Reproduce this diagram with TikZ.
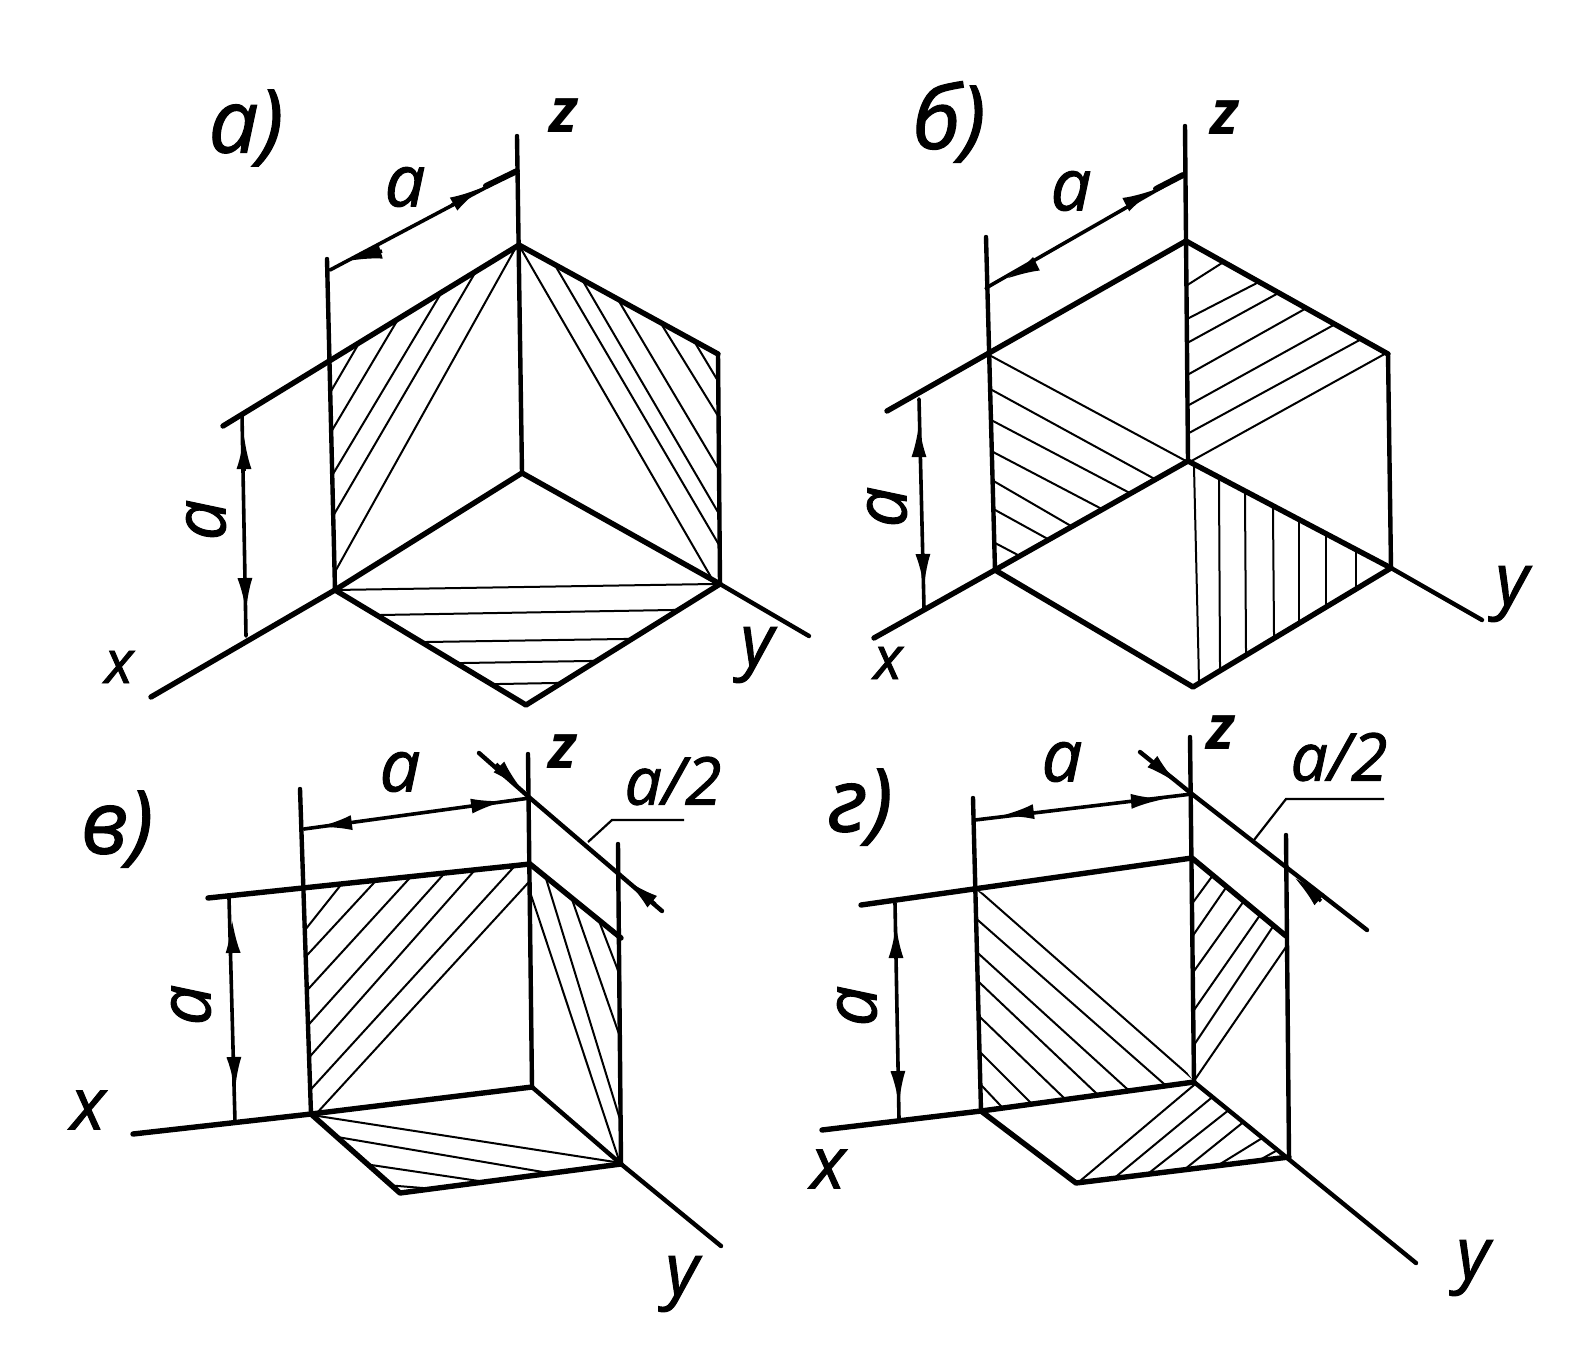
\documentclass[tikz,border=0pt]{standalone}
\usepackage{fontspec}
\setmainfont{Open Sans}[ItalicFeatures={FakeBold=1.4}]
\usetikzlibrary{arrows.meta,calc}
\tikzset{
  edge/.style={line width=5.4pt,line cap=round,line join=round,black},
  axis/.style={line width=4.4pt,line cap=round,line join=round,black},
  dimline/.style={line width=3.6pt,line cap=round,black},
  thinline/.style={line width=2.2pt,black},
  hatchline/.style={line width=2pt,black},
  headR/.style={line width=3.6pt,-{Latex[length=34pt,width=15pt]}},
  lblbig/.style={inner sep=0pt,font=\itshape\fontsize{88}{88}\selectfont},
  lbl/.style={inner sep=0pt,font=\itshape\fontsize{72}{72}\selectfont},
  lblax/.style={inner sep=0pt,font=\itshape\bfseries\fontsize{62}{62}\selectfont},
  lblx/.style={inner sep=0pt,font=\itshape\fontsize{60}{60}\selectfont},
  lblsm/.style={inner sep=0pt,font=\itshape\fontsize{66}{66}\selectfont},
}
% hatch lines, each lengthened a little and clipped by its face
\newcommand{\facehatch}[2]{%
  \begin{scope}
    \clip #1;
    \foreach \p/\q/\r/\s in {#2}
      \draw[hatchline] ($(\p,\q)!-14pt!(\r,\s)$) -- ($(\r,\s)!-14pt!(\p,\q)$);
  \end{scope}}
\begin{document}
\begin{tikzpicture}[x=1pt,y=-1pt]
\useasboundingbox[fill=white] (0,0) rectangle (1576,1352);

% ---------- panel a
\coordinate (aZt) at (517,136); \coordinate (aA) at (519,245); \coordinate (aC) at (522,473);
\coordinate (aLt) at (327,259); \coordinate (aLb) at (335,590); \coordinate (aEx) at (223,426);
\coordinate (aJ) at (329,362);
\coordinate (aX) at (151,697); \coordinate (aR) at (718,354); \coordinate (aYp) at (720,584);
\coordinate (aY) at (809,636); \coordinate (aB) at (526,705);
\coordinate (aD1) at (330,270); \coordinate (aD2) at (517,171);
\coordinate (aV1) at (242,415); \coordinate (aV2) at (246,636);
\facehatch{(aJ) -- (aA) -- (aC) -- (aLb) -- cycle}{334/386/355/350,334/427/394/326,336/469/437/300,336/511/472/278,336/570/515/249}
\facehatch{(aA) -- (aR) -- (aYp) -- (aC) -- cycle}{697/346/715/376,665/330/715/411,623/308/715/463,587/288/715/507,559/272/715/538,520/247/715/584}
\facehatch{(aLb) -- (aC) -- (aYp) -- (aB) -- cycle}{334/590/713/584,380/615/672/610,426/642/623/639,463/663/589/661,499/684/555/683}
\draw[axis] (aZt) -- (aC);
\draw[axis] (aLt) -- (aLb);
\draw[edge] (aEx) -- (aA) -- (aR);
\draw[axis] (aR) -- (aYp);
\draw[edge] (aX) -- (aLb) -- (aC) -- (aYp);
\draw[axis] (aYp) -- (aY);
\draw[edge] (aLb) -- (aB) -- (aYp);
\draw[dimline] (aD1) -- (aD2);
\draw[line width=6pt,line cap=round] (486,186) -- (aD2);
\draw[dimline] (aV1) -- (aV2);
\draw[headR] (382,251) -- (348,261);
\draw[headR] (452,205) -- (483,187);
\draw[headR] (244,471) -- (244,435);
\draw[headR] (245,580) -- (246,612);
\node[lblbig] (aTitle) at (246,128) {а)};
\node[lblax] (aZ) at (564,116) {z};
\node[lbl] (aDa) at (405,187) {a};
\node[lbl,rotate=90] (aVa) at (206,520) {a};
\node[lblx] (aXl) at (119,667) {x};
\node[lbl] (aYl) at (757,655) {y};

% ---------- panel b
\coordinate (bZt) at (1185,126); \coordinate (bA) at (1186,241); \coordinate (bC) at (1188,461);
\coordinate (bLt) at (986,237); \coordinate (bLb) at (995,570); \coordinate (bEx) at (887,411);
\coordinate (bJ) at (988,354);
\coordinate (bX) at (874,638); \coordinate (bR) at (1388,354); \coordinate (bYp) at (1391,568);
\coordinate (bY) at (1482,620); \coordinate (bB) at (1193,687);
\coordinate (bD1) at (986,288); \coordinate (bD2) at (1183,175);
\coordinate (bV1) at (919,399); \coordinate (bV2) at (924,608);
\facehatch{(bA) -- (bR) -- (bYp) -- (bC) -- cycle}{1189/284/1222/263,1189/318/1255/284,1189/342/1273/296,1189/374/1303/310,1189/405/1330/327,1189/433/1356/342,1195/459/1381/356}
\facehatch{(bJ) -- (1100,380) -- (bC) -- (bLb) -- cycle}{991/356/1186/461,992/390/1151/477,993/421/1126/491,995/453/1098/507,997/483/1071/526,997/511/1046/538,997/544/1016/554}
\facehatch{(bC) -- (bYp) -- (bB) -- (bLb) -- cycle}{1194/467/1199/681,1219/483/1220/665,1245/495/1246/651,1273/511/1274/634,1299/526/1299/618,1326/540/1326/602,1356/556/1356/584}
\draw[axis] (bZt) -- (bC);
\draw[axis] (bLt) -- (bLb);
\draw[edge] (bEx) -- (bA) -- (bR);
\draw[axis] (bR) -- (bYp);
\draw[edge] (bX) -- (bLb) -- (bC) -- (bYp);
\draw[axis] (bYp) -- (bY);
\draw[edge] (bLb) -- (bB) -- (bYp);
\draw[dimline] (bD1) -- (bD2);
\draw[line width=6pt,line cap=round] (1156,189) -- (bD2);
\draw[dimline] (bV1) -- (bV2);
\draw[headR] (1034,265) -- (1006,279);
\draw[headR] (1127,204) -- (1156,189);
\draw[headR] (919,455) -- (919,423);
\draw[headR] (923,556) -- (924,588);
\node[lblbig] (bTitle) at (949,122) {б)};
\node[lblax] (bZ) at (1225,118) {z};
\node[lbl] (bDa) at (1071,191) {a};
\node[lbl,rotate=90] (bVa) at (887,507) {a};
\node[lblx] (bXl) at (888,663) {x};
\node[lbl] (bYl) at (1512,594) {y};

% ---------- panel c
\coordinate (cZt) at (528,754); \coordinate (cM) at (530,798); \coordinate (cA) at (530,864); \coordinate (cC) at (532,1087);
\coordinate (cLt) at (300,789); \coordinate (cLb) at (311,1114); \coordinate (cEx) at (208,898);
\coordinate (cJ) at (302,888);
\coordinate (cX) at (133,1134); \coordinate (cRt) at (618,844); \coordinate (cYp) at (621,1164);
\coordinate (cY) at (721,1246); \coordinate (cB) at (400,1193);
\coordinate (cS) at (479,753); \coordinate (cE) at (662,911); \coordinate (cF) at (621,938);
\coordinate (cD1) at (304,829); \coordinate (cV1) at (229,898); \coordinate (cV2) at (235,1122);
\coordinate (cLe1) at (588,842); \coordinate (cLe2) at (612,820); \coordinate (cLe3) at (684,820);
\facehatch{(cJ) -- (cA) -- (cC) -- (cLb) -- cycle}{309/925/340/886,310/952/371/886,311/986/407/881,311/1022/443/875,313/1053/474/871,313/1087/512/869,316/1114/528/883}
\facehatch{(cA) -- (cF) -- (cYp) -- (cC) -- cycle}{604/934/619/973,575/908/619/1034,548/885/619/1116,532/898/619/1160}
\facehatch{(cLb) -- (cC) -- (cYp) -- (cB) -- cycle}{318/1116/615/1162,349/1139/543/1172,378/1166/479/1181,398/1186/423/1188}
\draw[axis] (cZt) -- (cC);
\draw[axis] (cLt) -- (cLb);
\draw[axis] (cRt) -- (cYp);
\draw[axis] (cS) -- (cM) -- (cE);
\draw[edge] (cEx) -- (cA) -- (cF);
\draw[edge] (cX) -- (cLb) -- (cC);
\draw[axis] (cC) -- (cYp);
\draw[axis] (cYp) -- (cY);
\draw[edge] (cLb) -- (cB) -- (cYp);
\draw[dimline] (cD1) -- (cM);
\draw[dimline] (cV1) -- (cV2);
\draw[thinline] (cLe1) -- (cLe2) -- (cLe3);
\draw[headR] (349,823) -- (318,827);
\draw[headR] (472,806) -- (505,801);
\draw[headR] (233,950) -- (232,919);
\draw[headR] (234,1060) -- (235,1091);
\draw[headR] (496,764) -- (523,791);
\draw[headR] (655,904) -- (626,880);
\node[lblbig] (cTitle) at (117,829) {в)};
\node[lblax] (cZ) at (563,752) {z};
\node[lbl] (cDa) at (400,772) {a};
\node[lblsm] (cHalf) at (673,781) {a/2};
\node[lbl,rotate=90] (cVa) at (191,1005) {a};
\node[lbl] (cXl) at (88,1110) {x};
\node[lbl] (cYl) at (682,1284) {y};

% ---------- panel d
\coordinate (dZt) at (1190,737); \coordinate (dM) at (1192,794); \coordinate (dA) at (1192,858); \coordinate (dC) at (1194,1082);
\coordinate (dLt) at (973,798); \coordinate (dLb) at (981,1111); \coordinate (dEx) at (861,905);
\coordinate (dJ) at (975,889);
\coordinate (dX) at (822,1130); \coordinate (dRt) at (1286,835); \coordinate (dYp) at (1289,1157);
\coordinate (dY) at (1416,1263); \coordinate (dB) at (1076,1183);
\coordinate (dS) at (1140,752); \coordinate (dE) at (1367,930); \coordinate (dF) at (1286,936);
\coordinate (dD1) at (975,820); \coordinate (dV1) at (895,903); \coordinate (dV2) at (899,1119);
\coordinate (dLe1) at (1254,840); \coordinate (dLe2) at (1286,799); \coordinate (dLe3) at (1384,799);
\facehatch{(dJ) -- (1100,950) -- (dC) -- (dLb) -- cycle}{977/889/1192/1078,980/922/1163/1083,980/955/1125/1087,981/984/1096/1093,982/1019/1063/1097,982/1054/1029/1101,983/1087/1000/1105}
\facehatch{(dA) -- (dF) -- (dYp) -- (dC) -- cycle}{1194/901/1216/871,1194/934/1225/889,1194/971/1241/905,1194/1010/1258/918,1194/1045/1272/928,1196/1078/1286/947}
\facehatch{(dLb) -- (dC) -- (dYp) -- (dB) -- cycle}{1194/1085/1080/1181,1210/1099/1118/1175,1225/1113/1154/1169,1241/1124/1190/1165,1259/1140/1225/1161,1274/1152/1265/1157}
\draw[axis] (dZt) -- (dC);
\draw[axis] (dLt) -- (dLb);
\draw[axis] (dRt) -- (dYp);
\draw[axis] (dS) -- (dM) -- (dE);
\draw[edge] (dEx) -- (dA) -- (dF);
\draw[edge] (dX) -- (dLb) -- (dC);
\draw[axis] (dC) -- (dY);
\draw[edge] (dLb) -- (dB) -- (dYp);
\draw[dimline] (dD1) -- (dM);
\draw[dimline] (dV1) -- (dV2);
\draw[thinline] (dLe1) -- (dLe2) -- (dLe3);
\draw[headR] (1031,812) -- (1000,816);
\draw[headR] (1136,801) -- (1165,799);
\draw[headR] (896,948) -- (896,924);
\draw[headR] (898,1074) -- (899,1105);
\draw[headR] (1154,763) -- (1178,784);
\draw[headR] (1321,901) -- (1294,877);
\node[lblbig] (dTitle) at (860,807) {г)};
\node[lblax] (dZ) at (1221,733) {z};
\node[lbl] (dDa) at (1062,762) {a};
\node[lblsm] (dHalf) at (1339,757) {a/2};
\node[lbl,rotate=90] (dVa) at (857,1006) {a};
\node[lbl] (dXl) at (828,1169) {x};
\node[lbl] (dYl) at (1473,1268) {y};
\end{tikzpicture}
\end{document}
